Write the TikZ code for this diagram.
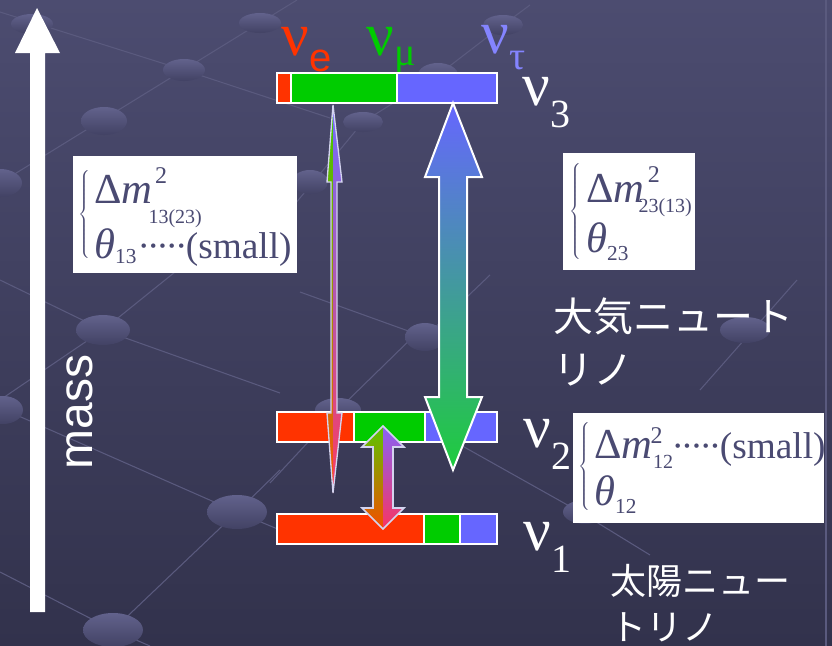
\documentclass[tikz,border=0pt]{standalone}
\usepackage{fontspec}
\newfontfamily\grk{Liberation Serif}
\newfontfamily\sansf{Liberation Sans}
\newfontfamily\jp{Noto Sans CJK JP}
\definecolor{nured}{HTML}{FF3300}
\definecolor{nugreen}{HTML}{00CC00}
\definecolor{nublue}{HTML}{6666FF}
\definecolor{tauc}{HTML}{8484FF}
\definecolor{boxtext}{HTML}{4A4A72}
\definecolor{bgtop}{RGB}{76,76,112}
\definecolor{bgbot}{RGB}{50,50,76}
\definecolor{dotlight}{RGB}{98,98,140}
\definecolor{dotdark}{RGB}{66,66,100}
\definecolor{gridc}{RGB}{90,90,126}
\definecolor{outl}{HTML}{D4D4F0}
\tikzset{
  seg/.style={draw=white, line width=1.5pt},
  nulab/.style={inner sep=0, anchor=base west, font=\grk\fontsize{46}{46}\selectfont},
  infobox/.style={fill=white, inner sep=0, anchor=north west},
  boxline/.style={inner sep=0, anchor=base west, text=boxtext, font=\grk\fontsize{28}{28}\selectfont},
  bracenode/.style={inner sep=0, text=boxtext},
  jptext/.style={inner sep=0, anchor=base west, text=white},
  dot/.style={top color=dotlight, bottom color=dotdark},
  grid/.style={draw=gridc, line width=0.8pt},
}
\newcommand{\nusub}[2]{\raisebox{#1}{\fontsize{30}{30}\selectfont #2}}
% sup kern, sup raise, sub kern, sub lower, sub text
\newcommand{\msup}[5]{\rlap{\kern#1\raisebox{#2}{\fontsize{18}{18}\selectfont 2}}\kern#3\raisebox{#4}{\fontsize{15}{15}\selectfont #5}}
\newcommand{\lowsub}[2]{\raisebox{#1}{\fontsize{16}{16}\selectfont #2}}
\newcommand{\symb}[1]{{\fontsize{32}{32}\selectfont #1}}
\newcommand{\dotbox}{\hbox to 7pt{\hss·\hss}}
\newcommand{\fivedots}{\dotbox\dotbox\dotbox\dotbox\dotbox}
\newcommand{\bigbrace}[1]{$\left\{\vrule height #1 depth #1 width 0pt\right.$}
\begin{document}
\begin{tikzpicture}[x=0.75pt,y=-0.75pt]
% background
\shade[top color=bgtop, bottom color=bgbot] (0,0) rectangle (832,646);
\useasboundingbox (0,0) rectangle (832,646);
% faint grid lines
\draw[grid] (0,183) -- (297,0);
\draw[grid] (0,12) -- (184,70) -- (330,118);
\draw[grid] (290,210) -- (363,122) -- (438,75) -- (503,25) -- (530,5);
\draw[grid] (270,483) -- (338,410) -- (420,330);
\draw[grid] (457,443) -- (580,512) -- (650,555);
\draw[grid] (797,280) -- (700,390);
\draw[grid] (300,292) -- (425,337) -- (490,275);
\draw[grid] (826,0) -- (826,646);
\draw[grid] (0,280) -- (103,330) -- (280,393);
\draw[grid] (0,400) -- (103,330) -- (175,272);
\draw[grid] (5,410) -- (237,512) -- (280,530);
\draw[grid] (113,630) -- (237,512) -- (280,470);
\draw[grid] (0,572) -- (113,630) -- (150,646);
% dots
\shade[dot] (32,24) ellipse [x radius=21, y radius=10];
\shade[dot] (260,23) ellipse [x radius=21, y radius=10];
\shade[dot] (184,70) ellipse [x radius=21, y radius=11];
\shade[dot] (104,121) ellipse [x radius=23, y radius=14];
\shade[dot] (0,183) ellipse [x radius=22, y radius=14];
\shade[dot] (438,75) ellipse [x radius=20, y radius=12];
\shade[dot] (503,25) ellipse [x radius=20, y radius=10];
\shade[dot] (363,122) ellipse [x radius=20, y radius=10];
\shade[dot] (310,182) ellipse [x radius=18, y radius=12];
\shade[dot] (745,330) ellipse [x radius=25, y radius=13];
\shade[dot] (425,337) ellipse [x radius=20, y radius=14];
\shade[dot] (338,410) ellipse [x radius=23, y radius=12];
\shade[dot] (585,512) ellipse [x radius=22, y radius=12];
\shade[dot] (103,330) ellipse [x radius=27, y radius=15];
\shade[dot] (3,410) ellipse [x radius=20, y radius=14];
\shade[dot] (237,512) ellipse [x radius=30, y radius=17];
\shade[dot] (113,630) ellipse [x radius=30, y radius=17];
% mass arrow
\fill[white] (37,8) -- (60,53) -- (45,53) -- (45,612) -- (30,612) -- (30,53) -- (15,53) -- cycle;
\node[inner sep=0, rotate=90, text=white, font=\sansf\fontsize{36}{36}\selectfont] (mass) at (80,412) {mass};
% flavour labels
\node[nulab, text=nured] (nue) at (281,55) {ν\nusub{-12.5pt}{\sansf e}};
\node[nulab, text=nugreen] (num) at (366,55) {ν\nusub{-8pt}{μ}};
\node[nulab, text=tauc] (nut) at (481,53) {ν\nusub{-12.5pt}{τ}};
% level bars
\filldraw[seg, fill=nured]   (277,73) rectangle (291,103);
\filldraw[seg, fill=nugreen] (291,73) rectangle (397,103);
\filldraw[seg, fill=nublue]  (397,73) rectangle (497,103);
\filldraw[seg, fill=nured]   (277,412) rectangle (354,442);
\filldraw[seg, fill=nugreen] (354,412) rectangle (425,442);
\filldraw[seg, fill=nublue]  (425,412) rectangle (497,442);
\filldraw[seg, fill=nured]   (277,514) rectangle (424,544);
\filldraw[seg, fill=nugreen] (424,514) rectangle (460,544);
\filldraw[seg, fill=nublue]  (460,514) rectangle (497,544);
% mass labels
\node[nulab, text=white] (nu3) at (522,105) {ν\nusub{-17pt}{3}};
\node[nulab, text=white] (nu2) at (523,447) {ν\nusub{-17pt}{2}};
\node[nulab, text=white] (nu1) at (523,550) {ν\nusub{-17pt}{1}};
% big arrow 23
\def\bigarrow{(453,103) -- (482,177) -- (467,177) -- (467,397) -- (482,397) -- (453,470) -- (425,397) -- (439,397) -- (439,177) -- (425,177) -- cycle}
\shade[top color=nublue, middle color={rgb,255:red,70;green,160;blue,190}, bottom color={rgb,255:red,30;green,205;blue,60}] \bigarrow;
\draw[white, line width=1.5pt, line join=miter] \bigarrow;
% thin arrow 13
\def\thinarrow{(333,105) -- (342,182) -- (337,182) -- (337,413) -- (342,413) -- (333,493) -- (327,413) -- (331,413) -- (331,182) -- (327,182) -- cycle}
\begin{scope}
\clip \thinarrow;
\shade[top color={rgb,255:red,60;green,205;blue,0}, bottom color={rgb,255:red,255;green,80;blue,10}] (320,100) rectangle (333,500);
\shade[top color={rgb,255:red,110;green,110;blue,255}, bottom color={rgb,255:red,255;green,60;blue,90}] (333,100) rectangle (346,500);
\end{scope}
\draw[outl, line width=1pt] \thinarrow;
% small arrow 12
\def\smallarrow{(383,426) -- (404,447) -- (393,447) -- (393,508) -- (404,508) -- (383,529) -- (362,508) -- (373,508) -- (373,447) -- (362,447) -- cycle}
\begin{scope}
\clip \smallarrow;
\shade[top color={rgb,255:red,80;green,205;blue,0}, bottom color={rgb,255:red,255;green,70;blue,0}] (360,420) rectangle (383,535);
\shade[top color={rgb,255:red,130;green,100;blue,255}, bottom color={rgb,255:red,255;green,50;blue,90}] (383,420) rectangle (406,535);
\end{scope}
\draw[outl, line width=1.2pt] \smallarrow;
% info box 13
\node[infobox, minimum width=168pt, minimum height=87.75pt] (b13) at (73,156) {};
\node[bracenode] (br13) at (85,216) {\bigbrace{33pt}};
\node[boxline] (l13a) at (94,203) {\symb{Δ\textit{m}}\msup{2pt}{15pt}{-3pt}{-15pt}{13(23)}};
\node[boxline] (l13b) at (94,258) {\symb{\textit{θ}}\lowsub{-4pt}{13}\hspace{2pt}\fivedots(small)};
% info box 23
\node[infobox, minimum width=99pt, minimum height=87.75pt] (b23) at (563,153) {};
\node[bracenode] (br23) at (576,212) {\bigbrace{34pt}};
\node[boxline] (l23a) at (586,202) {\symb{Δ\textit{m}}\msup{2.5pt}{15pt}{-4.5pt}{-7.5pt}{23(13)}};
\node[boxline] (l23b) at (586,252) {\symb{\textit{θ}}\lowsub{-6pt}{23}};
% info box 12
\node[infobox, minimum width=188.25pt, minimum height=82.5pt] (b12) at (573,413) {};
\node[bracenode] (br12) at (585,468) {\bigbrace{33pt}};
\node[boxline] (l12a) at (594,458) {\symb{Δ\textit{m}}\msup{-1.5pt}{11pt}{0.5pt}{-7.5pt}{12}\fivedots(small)};
\node[boxline] (l12b) at (594,505) {\symb{\textit{θ}}\lowsub{-6pt}{12}};
% Japanese labels
\node[jptext, font=\jp\fontsize{30}{30}\selectfont] (atm1) at (553,331) {大気ニュート};
\node[jptext, font=\jp\fontsize{30}{30}\selectfont] (atm2) at (553,384) {リノ};
\node[jptext, font=\jp\fontsize{27}{27}\selectfont] (sol1) at (610,594) {太陽ニュー};
\node[jptext, font=\jp\fontsize{27}{27}\selectfont] (sol2) at (610,640) {トリノ};
\end{tikzpicture}
\end{document}
